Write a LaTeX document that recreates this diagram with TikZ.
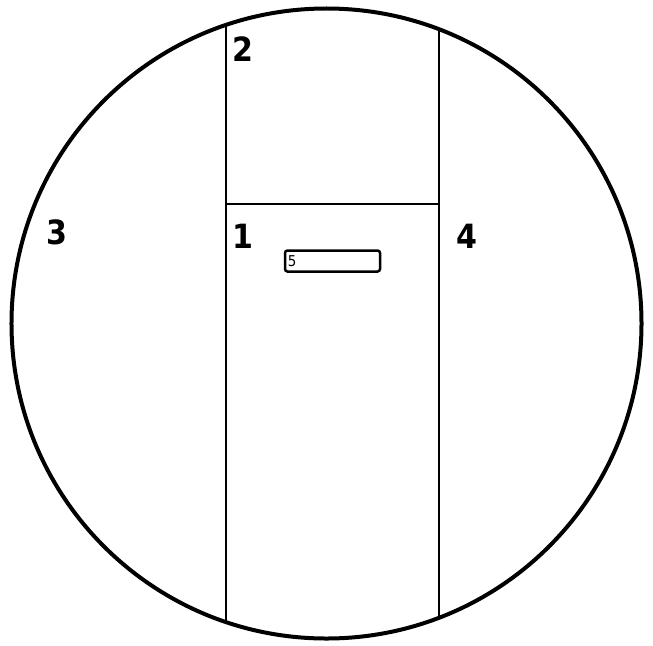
\documentclass[tikz,border=0pt]{standalone}
\usepackage{fontspec}
\newfontfamily\labelfont{DejaVu Sans Condensed}
\begin{document}
\begin{tikzpicture}[x=0.4mm, y=-0.4mm,
  zone/.style={font=\labelfont\bfseries\fontsize{38}{38}\selectfont, inner sep=0pt},
  wall/.style={line width=1mm}]
\useasboundingbox (0,0) rectangle (653,645);
\node[draw, circle, line width=1.6mm, minimum size=252mm, inner sep=0pt] (dish) at (326.5,323.5) {};
\begin{scope}
\clip (dish.center) circle (315);
\draw[wall] (226,0) -- (226,645);
\draw[wall] (439,0) -- (439,645);
\end{scope}
\coordinate (splitl) at (226,204);
\coordinate (splitr) at (439,204);
\draw[wall] (splitl) -- (splitr);
\node[zone] (z2) at (243,49) {2};
\node[zone] (z3) at (57,232) {3};
\node[zone] (z1) at (243,236) {1};
\node[zone] (z4) at (467,236) {4};
\node[draw, line width=1mm, rounded corners=1mm, minimum width=38mm, minimum height=8.4mm, inner sep=0pt] (slot) at (332.5,261) {};
\node[font=\labelfont\fontsize{17}{17}\selectfont, inner sep=0pt, anchor=west] (z5) at ([xshift=1.6mm]slot.west) {5};
\end{tikzpicture}
\end{document}
